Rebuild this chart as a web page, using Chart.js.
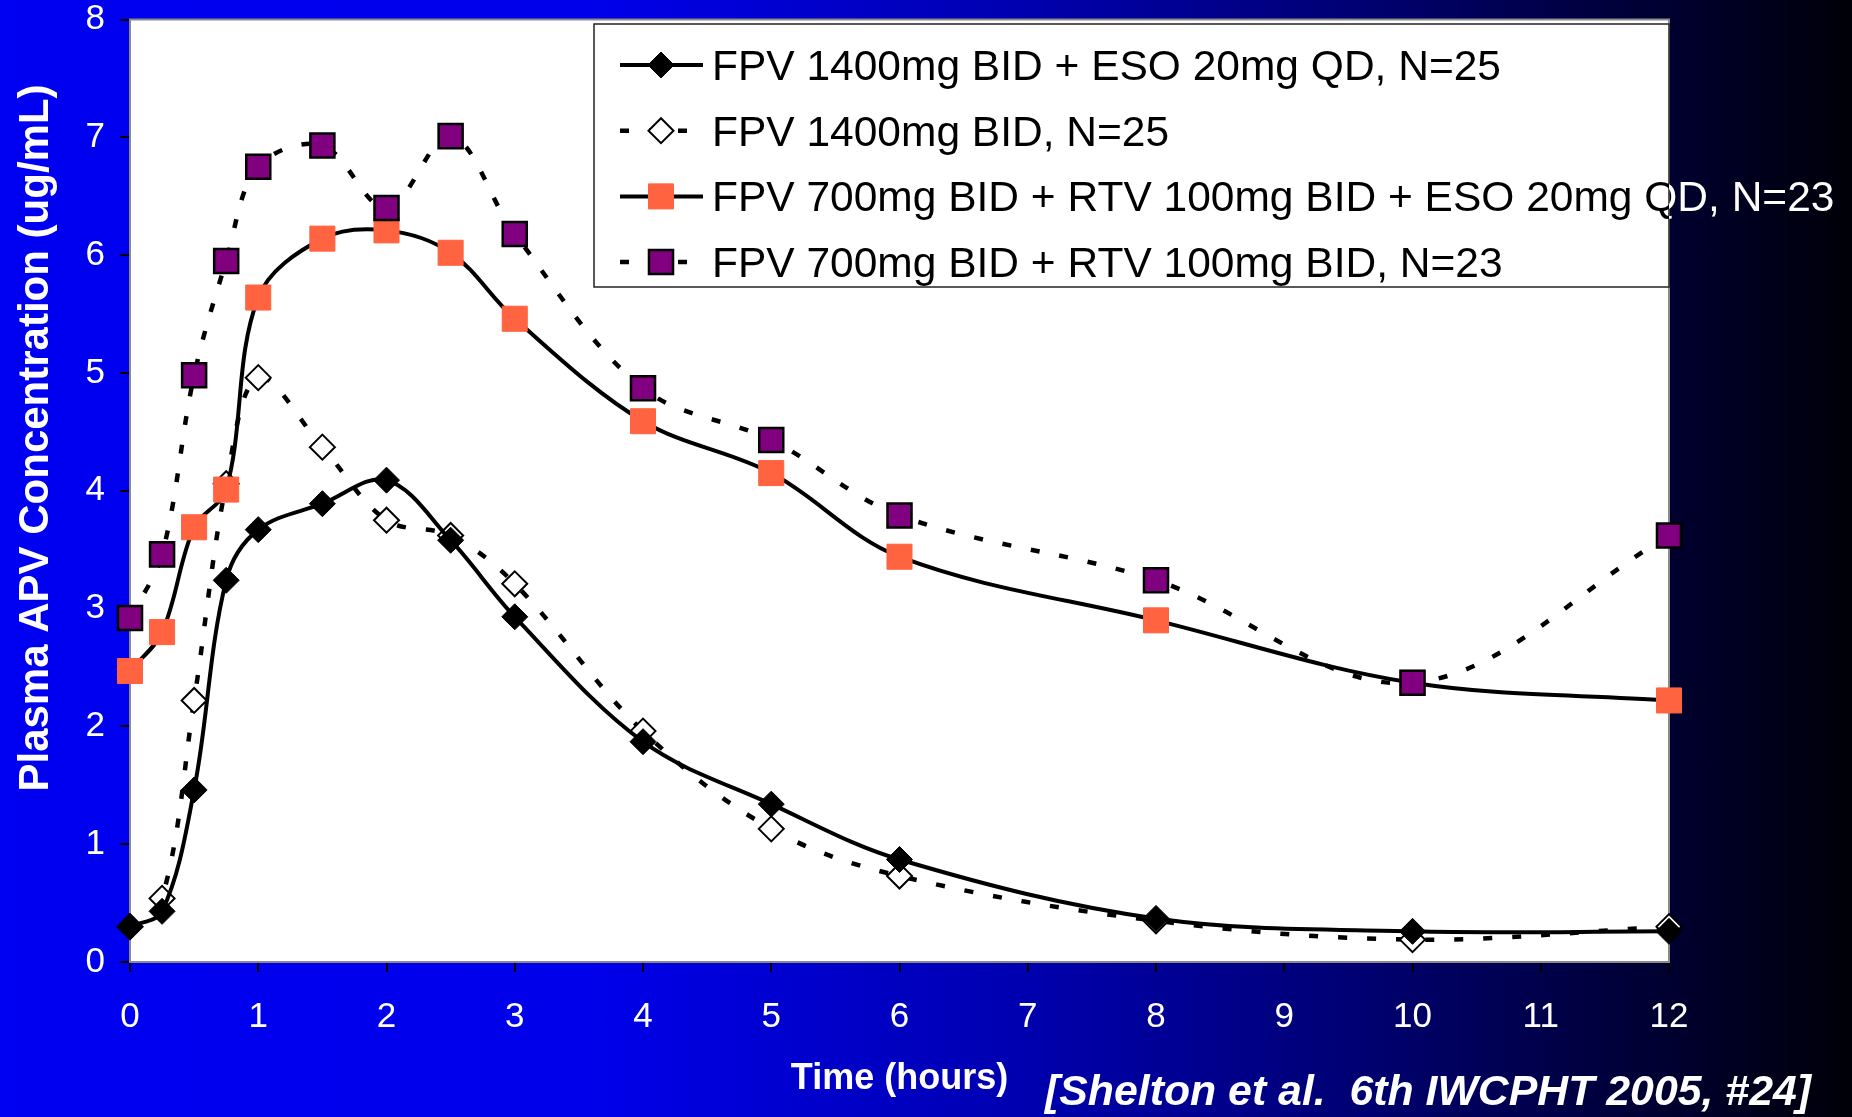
<!DOCTYPE html>
<html lang="en">
<head>
<meta charset="UTF-8">
<title>Plasma APV Concentration</title>
<script src="https://cdn.jsdelivr.net/npm/chart.js"></script>
<style>
    html, body {
        margin: 0;
        padding: 0;
    }
    body {
        width: 1852px;
        height: 1117px;
        overflow: hidden;
        background: linear-gradient(to right, #0000f2 0%, #0000ea 32%, #0000b0 55%, #000070 74%, #000038 88%, #000008 100%);
        font-family: "Liberation Sans", Arial, sans-serif;
    }
    .wrap {
        position: relative;
        width: 1852px;
        height: 1117px;
    }
</style>
</head>
<body>
<div class="wrap"><canvas id="pkChart"></canvas></div>
<script>
// time points (hours)
const hours = [0, 0.25, 0.5, 0.75, 1, 1.5, 2, 2.5, 3, 4, 5, 6, 8, 10, 12];

// mean plasma APV concentration (ug/mL)
const fpv1400Eso = [0.30, 0.43, 1.46, 3.24, 3.67, 3.89, 4.09, 3.58, 2.93, 1.87, 1.34, 0.87, 0.37, 0.26, 0.26];
const fpv1400 = [0.30, 0.54, 2.22, 4.06, 4.96, 4.37, 3.75, 3.62, 3.21, 1.96, 1.13, 0.73, 0.35, 0.19, 0.30];
const fpv700RtvEso = [2.47, 2.80, 3.69, 4.01, 5.64, 6.14, 6.21, 6.02, 5.46, 4.59, 4.15, 3.44, 2.90, 2.37, 2.22];
const fpv700Rtv = [2.92, 3.46, 4.98, 5.95, 6.75, 6.93, 6.40, 7.01, 6.18, 4.87, 4.43, 3.79, 3.24, 2.37, 3.62];

const seriesLabels = [
    'FPV 1400mg BID + ESO 20mg QD, N=25',
    'FPV 1400mg BID, N=25',
    'FPV 700mg BID + RTV 100mg BID + ESO 20mg QD, N=23',
    'FPV 700mg BID + RTV 100mg BID, N=23'
];

const xTitle = 'Time (hours)';
const yTitle = 'Plasma APV Concentration (ug/mL)';
const citation = '[Shelton et al.  6th IWCPHT 2005, #24]';

const FONT = '"Liberation Sans", Arial, sans-serif';
const ORANGE = '#ff6340';
const PURPLE = '#800080';
const DOTS = [9, 20];

function toPoints(values) {
    return hours.map((h, i) => ({ x: h, y: values[i] }));
}

function drawMarker(ctx, ds, x, y) {
    const r = ds.pointRadius;
    ctx.save();
    ctx.fillStyle = ds.pointBackgroundColor;
    ctx.strokeStyle = ds.pointBorderColor;
    ctx.lineWidth = ds.pointBorderWidth;
    ctx.setLineDash([]);
    ctx.beginPath();
    if (ds.pointStyle === 'rectRot') {
        ctx.moveTo(x - r, y);
        ctx.lineTo(x, y - r);
        ctx.lineTo(x + r, y);
        ctx.lineTo(x, y + r);
        ctx.closePath();
    } else {
        const s = r * Math.SQRT1_2;
        ctx.rect(x - s, y - s, 2 * s, 2 * s);
    }
    ctx.fill();
    if (ds.pointBorderWidth > 0) ctx.stroke();
    ctx.restore();
}

// white plot area with grey frame
const plotFrame = {
    id: 'plotFrame',
    beforeDraw(chart) {
        const { ctx, chartArea: a } = chart;
        ctx.save();
        ctx.fillStyle = '#fff';
        ctx.fillRect(a.left, a.top, a.right - a.left, a.bottom - a.top);
        ctx.restore();
    },
    beforeDatasetsDraw(chart) {
        const { ctx, chartArea: a } = chart;
        ctx.save();
        ctx.strokeStyle = '#8a8a8a';
        ctx.lineWidth = 2;
        ctx.strokeRect(a.left, a.top, a.right - a.left, a.bottom - a.top);
        ctx.restore();
    }
};

// legend box in the top right of the plot, plus the y title and the citation
const slideText = {
    id: 'slideText',
    afterDraw(chart) {
        const { ctx, chartArea: a, width, height } = chart;
        const box = { left: 594, top: 24, right: a.right, bottom: 287 };

        ctx.save();
        ctx.fillStyle = '#fff';
        ctx.fillRect(box.left, box.top, box.right - box.left, box.bottom - box.top);
        ctx.strokeStyle = '#222';
        ctx.lineWidth = 1.5;
        ctx.strokeRect(box.left, box.top, box.right - box.left, box.bottom - box.top);

        const rowGap = 65.7;
        chart.data.datasets.forEach((ds, i) => {
            const cy = box.top + 41 + i * rowGap;
            const mx = 661;
            ctx.save();
            ctx.strokeStyle = ds.borderColor;
            ctx.lineWidth = ds.borderWidth;
            ctx.setLineDash(ds.borderDash || []);
            ctx.beginPath();
            ctx.moveTo(620, cy);
            ctx.lineTo(703, cy);
            ctx.stroke();
            ctx.restore();
            drawMarker(ctx, ds, mx, cy);

            ctx.font = '42.5px ' + FONT;
            ctx.textBaseline = 'alphabetic';
            ctx.textAlign = 'left';
            // black inside the box, white where it runs off onto the slide
            ctx.save();
            ctx.beginPath();
            ctx.rect(box.left, box.top, box.right - box.left, box.bottom - box.top);
            ctx.clip();
            ctx.fillStyle = '#000';
            ctx.fillText(ds.label, 712, cy + 15);
            ctx.restore();
            ctx.save();
            ctx.beginPath();
            ctx.rect(box.right, 0, width - box.right, height);
            ctx.clip();
            ctx.fillStyle = '#fff';
            ctx.fillText(ds.label, 712, cy + 15);
            ctx.restore();
        });

        // y axis title
        ctx.save();
        ctx.translate(36, 438);
        ctx.rotate(-Math.PI / 2);
        ctx.font = 'bold 42px ' + FONT;
        ctx.fillStyle = '#fff';
        ctx.textAlign = 'center';
        ctx.textBaseline = 'middle';
        ctx.fillText(yTitle, 0, 0);
        ctx.restore();

        // citation
        ctx.font = 'italic bold 43px ' + FONT;
        ctx.fillStyle = '#fff';
        ctx.textAlign = 'left';
        ctx.textBaseline = 'alphabetic';
        ctx.fillText(citation, 1045, 1105, 766);
        ctx.restore();
    }
};

const ctx = document.getElementById('pkChart').getContext('2d');
new Chart(ctx, {
    type: 'line',
    data: {
        datasets: [
            {
                label: seriesLabels[0],
                data: toPoints(fpv1400Eso),
                borderColor: '#000',
                borderWidth: 4,
                pointStyle: 'rectRot',
                pointRadius: 13,
                pointBackgroundColor: '#000',
                pointBorderColor: '#000',
                pointBorderWidth: 1,
                order: 1
            },
            {
                label: seriesLabels[1],
                data: toPoints(fpv1400),
                borderColor: '#000',
                borderWidth: 4.5,
                borderDash: DOTS,
                pointStyle: 'rectRot',
                pointRadius: 12.5,
                pointBackgroundColor: '#fff',
                pointBorderColor: '#000',
                pointBorderWidth: 2,
                order: 4
            },
            {
                label: seriesLabels[2],
                data: toPoints(fpv700RtvEso),
                borderColor: '#000',
                borderWidth: 4,
                pointStyle: 'rect',
                pointRadius: 17.7,
                pointBackgroundColor: ORANGE,
                pointBorderColor: ORANGE,
                pointBorderWidth: 1,
                order: 3
            },
            {
                label: seriesLabels[3],
                data: toPoints(fpv700Rtv),
                borderColor: '#000',
                borderWidth: 4.5,
                borderDash: DOTS,
                pointStyle: 'rect',
                pointRadius: 17,
                pointBackgroundColor: PURPLE,
                pointBorderColor: '#000',
                pointBorderWidth: 2.5,
                order: 2
            }
        ]
    },
    options: {
        responsive: true,
        maintainAspectRatio: false,
        animation: false,
        clip: false,
        elements: {
            line: { tension: 0.35, fill: false, borderCapStyle: 'butt' }
        },
        layout: { padding: { left: 0, right: 183, top: 19, bottom: 0 } },
        plugins: {
            legend: { display: false },
            tooltip: { enabled: false }
        },
        scales: {
            x: {
                type: 'linear',
                min: 0,
                max: 12,
                ticks: { stepSize: 1, color: '#fff', padding: 28, font: { family: FONT, size: 35, lineHeight: 1 } },
                grid: { drawOnChartArea: false, drawTicks: true, tickLength: 10, color: '#000', lineWidth: 2 },
                border: { color: '#8a8a8a', width: 2 },
                title: {
                    display: true,
                    text: xTitle,
                    color: '#fff',
                    font: { family: FONT, size: 36, weight: 'bold' },
                    padding: { top: 0, bottom: 16 }
                },
                afterFit(scale) { scale.height = 155; }
            },
            y: {
                min: 0,
                max: 8,
                ticks: { stepSize: 1, color: '#fff', padding: 15, font: { family: FONT, size: 35, lineHeight: 1 } },
                grid: { drawOnChartArea: false, drawTicks: true, tickLength: 10, color: '#000', lineWidth: 2 },
                border: { color: '#8a8a8a', width: 2 },
                afterFit(scale) {
                    scale.width = 130;
                    scale.paddingTop = 0;
                    scale.paddingBottom = 0;
                }
            }
        }
    },
    plugins: [plotFrame, slideText]
});
</script>
</body>
</html>
